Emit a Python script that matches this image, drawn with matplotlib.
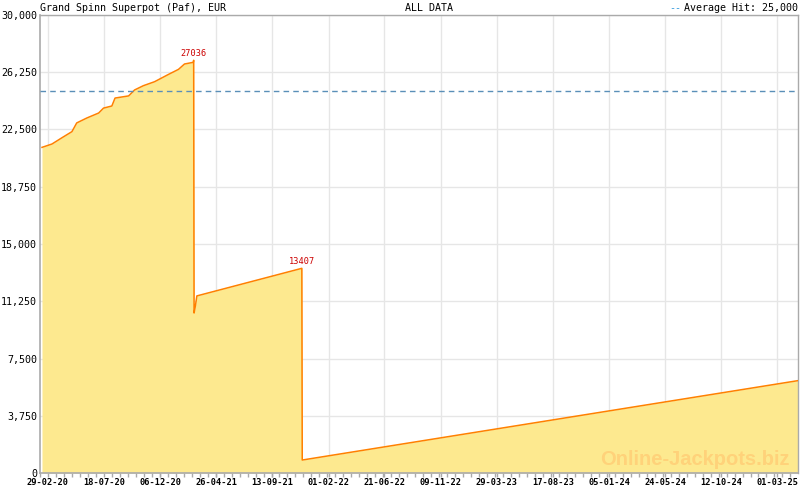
import matplotlib
matplotlib.use("Agg")
import matplotlib.pyplot as plt
import numpy as np
import pandas as pd

# ---- data ----
dates = [
    "2020-02-14", "2020-03-10", "2020-04-04", "2020-04-29", "2020-05-11",
    "2020-06-05", "2020-07-05", "2020-07-17", "2020-08-07", "2020-08-15",
    "2020-09-18", "2020-10-03", "2020-10-25", "2020-11-22", "2020-12-27",
    "2021-01-21", "2021-02-05", "2021-02-27", "2021-02-28",
    "2021-03-01", "2021-03-04", "2021-03-08", "2021-11-26",
    "2021-11-27", "2025-04-22",
]
values = [
    21330, 21550, 21960, 22360, 22930,
    23250, 23580, 23900, 24040, 24560,
    24700, 25090, 25370, 25630, 26110,
    26440, 26790, 26900, 27036,
    10480, 10900, 11600, 13407,
    850, 6050,
]
peak_dates = ["2021-02-28", "2021-11-26"]
peak_values = [27036, 13407]
average_hit = 25000
y_ticks = [0, 3750, 7500, 11250, 15000, 18750, 22500, 26250, 30000]
x_tick_labels = ["29-02-20", "18-07-20", "06-12-20", "26-04-21", "13-09-21",
                 "01-02-22", "21-06-22", "09-11-22", "29-03-23", "17-08-23",
                 "05-01-24", "24-05-24", "12-10-24", "01-03-25"]
title_left = "Grand Spinn Superpot (Paf), EUR"
title_center = "ALL DATA"
legend_text = "Average Hit: 25,000"
watermark = "Online-Jackpots.biz"

# ---- plot ----
d = pd.to_datetime(dates)
x_ticks = pd.to_datetime(x_tick_labels, format="%d-%m-%y")
font = "DejaVu Sans Mono"

fig = plt.figure(figsize=(8, 4.9), dpi=100)
ax = fig.add_axes([40 / 800, 17 / 490, 758 / 800, 458 / 490])

xmin = pd.Timestamp("2020-02-14")
xmax = pd.Timestamp("2025-04-22")
ax.set_xlim(xmin, xmax)
ax.set_ylim(0, 30000)

ax.fill_between(d, values, 0, color="#FDE98F", linewidth=0, zorder=2)
ax.plot(d, values, color="#FF8000", linewidth=1.1, zorder=3)

ax.axhline(average_hit, color="#5A8FB8", linestyle=(0, (4, 3)),
           linewidth=1, zorder=4)

for pd_, pv in zip(pd.to_datetime(peak_dates), peak_values):
    ax.annotate(str(pv), (pd_, pv), xytext=(0, 1.5), textcoords="offset points",
                ha="center", va="bottom", color="#CC0000", fontsize=6.2,
                family=font, zorder=5)

ax.set_yticks(y_ticks)
ax.set_yticklabels([f"{v:,}" for v in y_ticks], family=font, fontsize=7.2)
ax.set_xticks(x_ticks)
ax.set_xticklabels(x_tick_labels, family=font, fontsize=6.2, fontweight="bold")
minor = pd.date_range(x_ticks[0] - pd.Timedelta(days=20), xmax, freq="20D")
ax.set_xticks(minor, minor=True)

ax.grid(True, which="major", color="#E6E6E6", linewidth=1, zorder=0)
ax.set_axisbelow(True)

ax.tick_params(axis="y", length=0, pad=2)
ax.tick_params(axis="x", which="both", direction="out", color="#AAAAAA",
               length=3, width=1, pad=0.5)

for s in ["left", "bottom", "top", "right"]:
    ax.spines[s].set_color("#AAAAAA")
    ax.spines[s].set_linewidth(1.2)
ax.spines["top"].set_linewidth(1)
ax.spines["right"].set_linewidth(1)

ty = 1 - 8 / 490
fig.text(40 / 800, ty, title_left, family=font, fontsize=7.2,
         ha="left", va="center")
fig.text(429 / 800, ty, title_center, family=font, fontsize=7.2,
         ha="center", va="center")
leg = fig.text(798 / 800, ty, legend_text, family=font, fontsize=7.2,
               ha="right", va="center")
fig.canvas.draw()
bb = leg.get_window_extent()
fig.text((bb.x0 - 3) / 800, ty, "--", family=font, fontsize=7.2,
         ha="right", va="center", color="#3399DD")

fig.text(790 / 800, 1 - 459 / 490, watermark, fontsize=14.5, fontweight="bold",
         family="Liberation Sans", ha="right", va="center", color="#FFD27A",
         zorder=6)

fig.savefig("out.png", dpi=100)
